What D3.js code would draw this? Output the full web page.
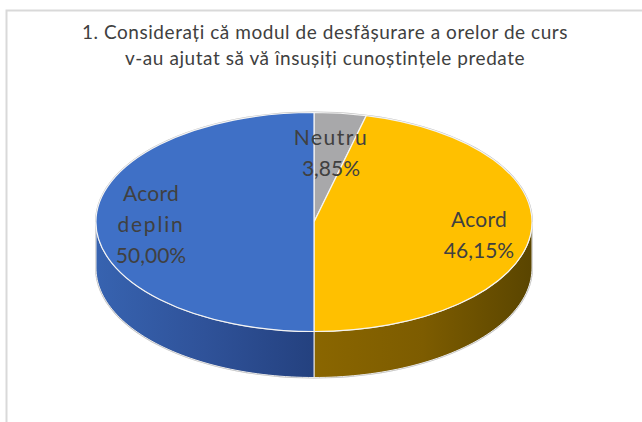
<!DOCTYPE html>
<html>
<head>
<meta charset="utf-8">
<script src="https://cdn.jsdelivr.net/npm/d3@7"></script>
<style>
  html, body { margin: 0; padding: 0; background: #fff; }
  text { font-family: Lato, "Open Sans", sans-serif; fill: #404040; }
</style>
</head>
<body>
<svg id="chart" width="642" height="422"></svg>
<script>
var categories = ['Neutru', 'Acord', 'Acord deplin'];
var values = [3.85, 46.15, 50.00];
var valueLabels = ['3,85%', '46,15%', '50,00%'];
var topColors = ['#a8a8aa', '#ffc000', '#3f70c6'];
var sideStops = [
  ['#6f6f6f', '#6f6f6f'],
  ['#8a6600', '#7d5c00', '#5a4500'],
  ['#24417f', '#2f5299', '#3763b0']
];
var titleLines = ['1. Considerați că modul de desfășurare a orelor de curs',
                  'v-au ajutat să vă însușiți cunoștințele predate'];

var CX = 314, CY = 222; // ellipse centre of the top face
var RX = 218, RY = 109.5;
var DEPTH = 46;

var svg = d3.select('#chart');
var defs = svg.append('defs');

// frame, only the top and left edge show in the picture
svg.append('path')
  .attr('d', d3.line()([[6.5, 422], [6.5, 10.5], [642, 10.5]]))
  .attr('fill', 'none')
  .attr('stroke', '#d9d9d9')
  .attr('stroke-width', 2);

// Title
svg.selectAll('text.title')
  .data(titleLines)
  .enter()
  .append('text')
  .attr('class', 'title')
  .attr('x', 325)
  .attr('y', function(d, i) { return 39 + i * 26; })
  .attr('text-anchor', 'middle')
  .attr('font-size', 19)
  .attr('letter-spacing', 0.55)
  .text(function(d) { return d; });

var pie = d3.pie().sort(null);
var slices = pie(values);

// Maps pie angle to a point on the rim of the flattened pie
function rim(a, drop) {
  return [CX + RX * Math.sin(a), CY - RY * Math.cos(a) + drop];
}

// Side wall, only the front half of the rim can be seen
function sidePath(d) {
  var start = Math.max(d.startAngle, Math.PI / 2);
  var end = Math.min(d.endAngle, Math.PI * 1.5);
  if (start >= end) {
    return null;
  }
  var steps = d3.range(0, 61).map(function(i) { return start + (end - start) * i / 60; });
  var front = steps.map(function(a) { return rim(a, 0); });
  var back = steps.slice().reverse().map(function(a) { return rim(a, DEPTH); });
  return d3.line()(front.concat(back)) + 'Z';
}

// Side shading, runs from the middle of the pie to its edge
sideStops.forEach(function(stops, i) {
  var goesRight = i < 2;
  var grad = defs.append('linearGradient')
    .attr('id', 'side' + i)
    .attr('x1', goesRight ? 0 : 1)
    .attr('x2', goesRight ? 1 : 0)
    .attr('y1', 0)
    .attr('y2', 0);
  grad.selectAll('stop')
    .data(stops)
    .enter()
    .append('stop')
    .attr('offset', function(d, j) { return j / (stops.length - 1); })
    .attr('stop-color', function(d) { return d; });
});

// Thin grey halo round the whole pie
var outline = d3.range(0, 121).map(function(i) {
  var a = i / 120 * Math.PI * 2;
  return rim(a, (a > Math.PI / 2 && a < Math.PI * 1.5) ? DEPTH : 0);
});
svg.append('path')
  .attr('d', d3.line()(outline) + 'Z')
  .attr('fill', '#fff')
  .attr('stroke', '#bdbdbd')
  .attr('stroke-width', 2);

var sides = svg.append('g');
sides.selectAll('path')
  .data(slices)
  .enter()
  .append('path')
  .attr('d', sidePath)
  .attr('fill', function(d, i) { return 'url(#side' + i + ')'; })
  .attr('stroke', '#e8e8e8')
  .attr('stroke-width', 1);

// Top face, a normal d3 arc squashed vertically
var arc = d3.arc().innerRadius(0).outerRadius(RX);
svg.append('g')
  .attr('transform', 'translate(' + CX + ',' + CY + ') scale(1,' + (RY / RX) + ')')
  .selectAll('path')
  .data(slices)
  .enter()
  .append('path')
  .attr('d', arc)
  .attr('fill', function(d, i) { return topColors[i]; })
  .attr('stroke', '#f4f4f4')
  .attr('stroke-width', 1.2)
  .attr('vector-effect', 'non-scaling-stroke');

// Data labels
var labelLines = [
  [categories[0], valueLabels[0]],
  [categories[1], valueLabels[1]],
  ['Acord', 'deplin', valueLabels[2]]
];
var labelX = [331, 479, 151];
var labelY = [145, 227, 201];
var labelSpacing = [[1.5, 0], [0.3, 0], [0.3, 1.8, 0]];

labelLines.forEach(function(lines, i) {
  svg.append('g')
    .selectAll('text')
    .data(lines)
    .enter()
    .append('text')
    .attr('x', labelX[i])
    .attr('y', function(d, j) { return labelY[i] + j * 31; })
    .attr('text-anchor', 'middle')
    .attr('font-size', 21)
    .attr('letter-spacing', function(d, j) { return labelSpacing[i][j]; })
    .text(function(d) { return d; });
});
</script>
</body>
</html>
